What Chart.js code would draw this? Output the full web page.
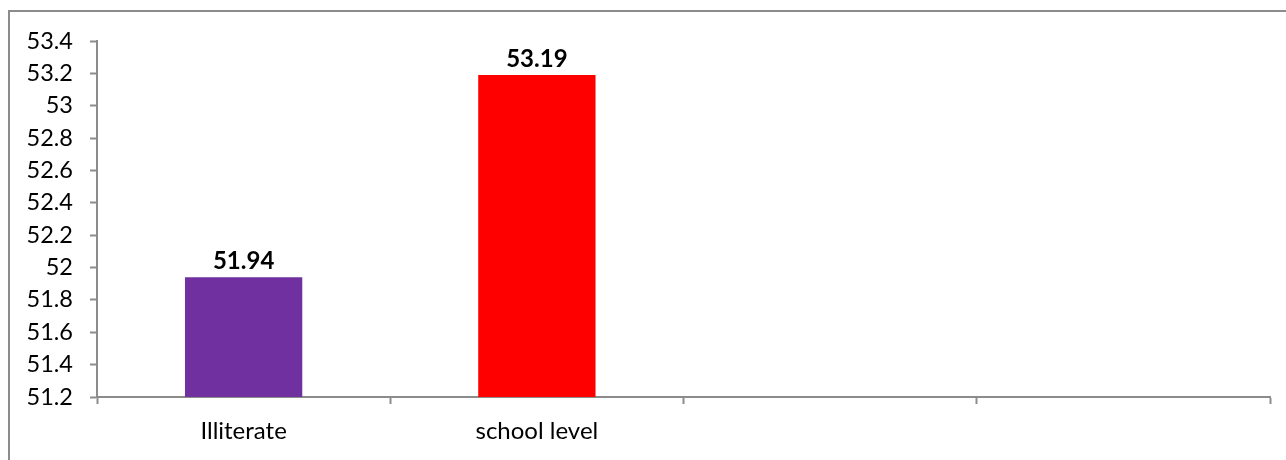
<!DOCTYPE html>
<html>
<head>
<meta charset="utf-8">
<script src="https://cdn.jsdelivr.net/npm/chart.js@4.4.1/dist/chart.umd.min.js"></script>
<style>
  html, body { margin: 0; padding: 0; background: #fff; overflow: hidden; }
  #frame {
    position: absolute; left: 8px; top: 10px; width: 1300px; height: 470px;
    border: 2px solid #8c8c8c; box-sizing: border-box;
  }
  #wrap { position: absolute; left: 0; top: 0; width: 1286px; height: 460px; }
</style>
</head>
<body>
<div id="frame"></div>
<div id="wrap"><canvas id="myChart"></canvas></div>
<script>
const categories = ['Illiterate', 'school level', '', ''];
const values = [51.94, 53.19, null, null];
const barColors = ['#7030A0', '#FF0000', '#7030A0', '#FF0000'];
const yMin = 51.2, yMax = 53.4, yStep = 0.2;

const axisGray = '#8c8c8c';
const font = 'Lato, "Liberation Sans", sans-serif';

// value labels above each bar
const barLabels = {
  id: 'barLabels',
  afterDatasetsDraw(chart) {
    const { ctx } = chart;
    const meta = chart.getDatasetMeta(0);
    ctx.save();
    ctx.font = 'bold 24px ' + font;
    ctx.fillStyle = '#000';
    ctx.textAlign = 'center';
    ctx.textBaseline = 'alphabetic';
    meta.data.forEach((bar, i) => {
      const v = values[i];
      if (v == null) return;
      ctx.fillText(v.toFixed(2), bar.x, bar.y - 8);
    });
    ctx.restore();
  }
};

new Chart(document.getElementById('myChart'), {
  type: 'bar',
  data: {
    labels: categories,
    datasets: [{
      data: values,
      backgroundColor: barColors,
      borderWidth: 0,
      barPercentage: 0.4,
      categoryPercentage: 1.0
    }]
  },
  options: {
    responsive: true,
    maintainAspectRatio: false,
    animation: false,
    layout: { padding: { top: 41, right: 16, bottom: 0, left: 0 } },
    plugins: { legend: { display: false }, tooltip: { enabled: false } },
    scales: {
      x: {
        offset: true,
        grid: { offset: true, drawOnChartArea: false, tickLength: 7, tickColor: axisGray, tickWidth: 2 },
        border: { color: axisGray, width: 2 },
        ticks: { color: '#000', font: { family: font, size: 24 }, padding: 13, maxRotation: 0 },
        afterFit(scale) { scale.height = 63; }
      },
      y: {
        min: yMin,
        max: yMax,
        grid: { drawOnChartArea: false, tickLength: 7, tickColor: axisGray, tickWidth: 2 },
        border: { color: axisGray, width: 2 },
        ticks: {
          stepSize: yStep,
          color: '#000',
          font: { family: font, size: 23.5 },
          padding: 17,
          callback: v => String(Number(v.toFixed(1)))
        },
        afterFit(scale) { scale.width = 97; }
      }
    }
  },
  plugins: [barLabels]
});
</script>
</body>
</html>
